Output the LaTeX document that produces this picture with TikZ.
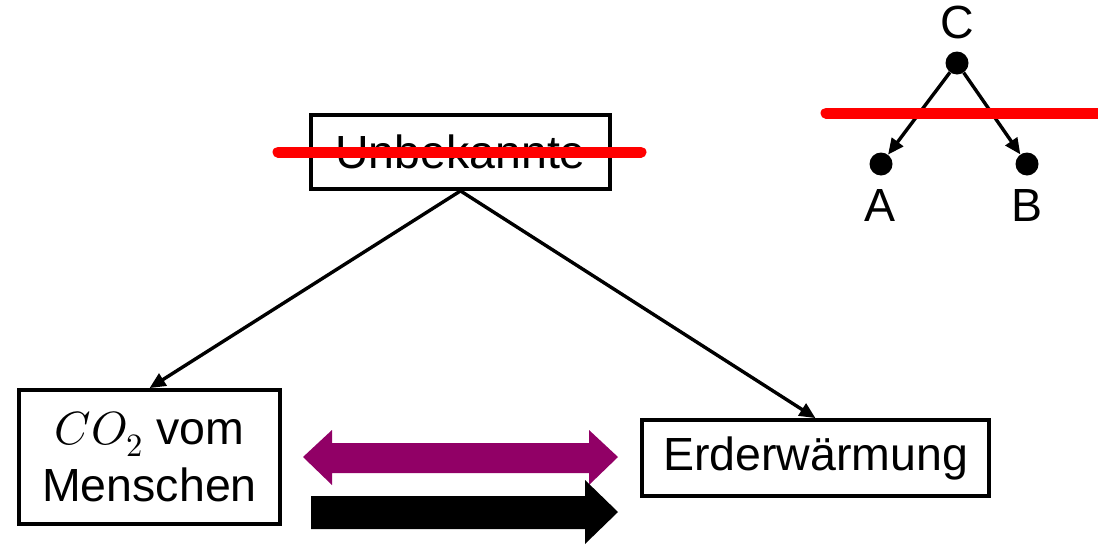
\documentclass[tikz,border=0pt]{standalone}
\usepackage{fontspec}
\usepackage{unicode-math}
\setmainfont{Liberation Sans}
\setmathfont{Latin Modern Math}
\usetikzlibrary{arrows.meta}
\definecolor{strikered}{RGB}{255,0,0}
\definecolor{plum}{RGB}{145,0,102}

\begin{document}
\begin{tikzpicture}[x=1pt,y=-1pt,
  bigtext/.style={font=\fontsize{46.5}{57}\selectfont},
  box/.style={draw,line width=3.8pt,inner sep=0pt,align=center,bigtext},
  link/.style={line width=3.4pt,-{Triangle[length=16pt,width=14pt]}},
  dot/.style={circle,fill,inner sep=0pt,minimum size=23pt},
  strikeout/.style={draw=strikered,line width=11pt,line cap=round}]
\useasboundingbox (0,0) rectangle (1098,544);

% cause boxes
\node[box,minimum width=299pt,minimum height=74pt] (unb) at (460.5,152) {Unbekannte};
\node[box,minimum width=261pt,minimum height=134pt] (co2) at (149.5,457) {$CO_2$ vom\\Menschen};
\node[box,minimum width=347pt,minimum height=76pt] (erd) at (815.5,458) {Erderwärmung};

\draw[link] (unb.south) -- (co2.north);
\draw[link] (unb.south) -- (erd.north);

% crossed-out common cause
\draw[strikeout] (278,152) -- (641,152);

% block arrows between the two effects
\fill[plum] (303,457) -- (332,430) -- (332,443) -- (589,443) -- (589,430)
  -- (618,457) -- (589,485) -- (589,473) -- (332,473) -- (332,485) -- cycle;
\fill[black] (311,496) -- (585,496) -- (585,480) -- (618,512) -- (585,544)
  -- (585,529) -- (311,529) -- cycle;

% small fork graph
\node[bigtext] (lc) at (957,22) {C};
\node[dot] (c) at (957,63) {};
\node[dot] (a) at (881,164) {};
\node[dot] (b) at (1027,164) {};
\node[bigtext] (la) at (880,206) {A};
\node[bigtext] (lb) at (1027,206) {B};
\draw[link] (c) -- (a);
\draw[link] (c) -- (b);
\draw[strikeout] (826,113) -- (1110,113);
\end{tikzpicture}
\end{document}
